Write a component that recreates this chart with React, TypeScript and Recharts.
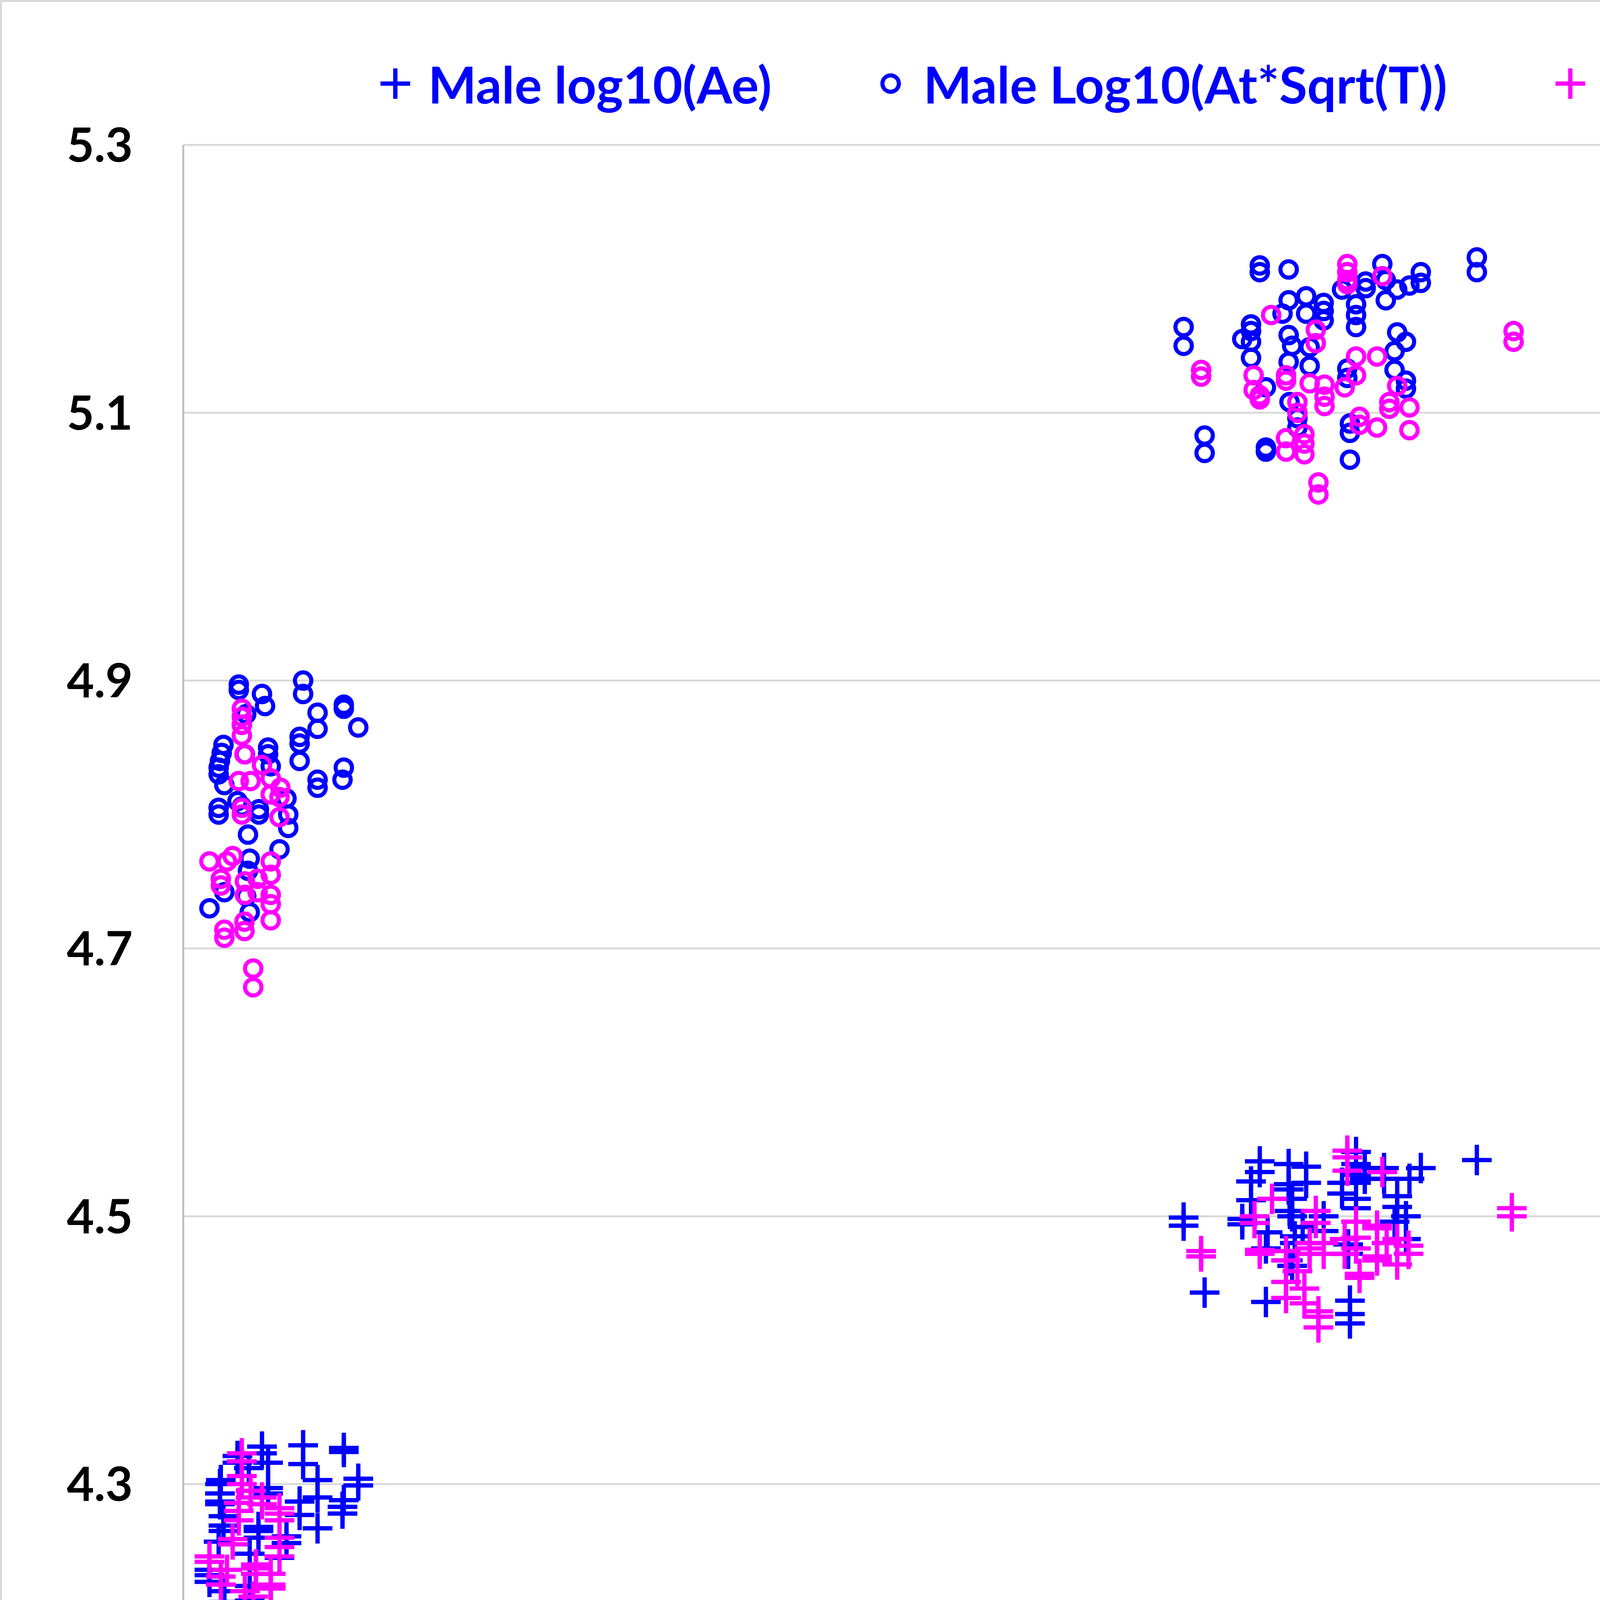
import React from "react";
import { ScatterChart, Scatter, XAxis, YAxis, CartesianGrid, Label } from "recharts";

type Pt = [number, number];

const monthTicks = [0, 5, 10, 15, 20, 25, 30];
const valueTicks = [4.1, 4.3, 4.5, 4.7, 4.9, 5.1, 5.3];

const BLUE = "#0000ff";
const MAGENTA = "#ff00ff";

// [months, value]
const maleAe: Pt[] = [
  [0.9, 4.328], [0.9, 4.323], [1.37, 4.329], [1.37, 4.315], [1.835, 4.327], [1.835, 4.324], [2.0, 4.304], [2.0, 4.299],
  [1.535, 4.303], [1.535, 4.29], [1.535, 4.267], [1.33, 4.287], [1.33, 4.277], [1.82, 4.283], [1.82, 4.278], [1.835, 4.288],
  [0.97, 4.316], [0.62, 4.321], [0.62, 4.316], [0.43, 4.303], [0.42, 4.3], [0.42, 4.293], [0.42, 4.287], [0.42, 4.285],
  [0.97, 4.297], [0.97, 4.293], [0.75, 4.312], [0.46, 4.276], [0.46, 4.269], [0.46, 4.265], [0.405, 4.257], [1.18, 4.261],
  [1.18, 4.256], [1.1, 4.245], [0.86, 4.268], [0.86, 4.265], [0.86, 4.26], [0.76, 4.248], [0.3, 4.236], [0.3, 4.232],
  [0.3, 4.227], [0.47, 4.22], [0.47, 4.212], [0.76, 4.224], [0.76, 4.213],
  [11.43, 4.499], [11.43, 4.493], [11.67, 4.443], [12.3, 4.541], [12.3, 4.533], [12.2, 4.526], [12.2, 4.512], [12.1, 4.498],
  [12.1, 4.494], [12.39, 4.488], [12.37, 4.476], [12.37, 4.436], [12.63, 4.539], [12.63, 4.524], [12.63, 4.52], [12.83, 4.537],
  [12.83, 4.525], [12.67, 4.513], [12.64, 4.504], [12.67, 4.5], [12.79, 4.492], [12.7, 4.485], [12.7, 4.48], [13.03, 4.5],
  [13.03, 4.489], [12.62, 4.467], [12.67, 4.463], [13.4, 4.548], [13.4, 4.539], [13.4, 4.531], [13.4, 4.525], [13.4, 4.513],
  [13.4, 4.506], [13.24, 4.525], [13.24, 4.517], [13.5, 4.536], [13.5, 4.528], [13.72, 4.536], [13.72, 4.528], [14.14, 4.536],
  [14.01, 4.528], [13.87, 4.515], [13.87, 4.507], [13.97, 4.5], [13.84, 4.496], [13.97, 4.483], [13.31, 4.479], [13.31, 4.472],
  [13.33, 4.437], [13.33, 4.427], [13.33, 4.42], [14.78, 4.542],
  [24.44, 4.594], [24.44, 4.589], [25.0, 4.593], [25.0, 4.584], [23.54, 4.561], [23.54, 4.553], [23.87, 4.53], [23.87, 4.526],
  [24.33, 4.567], [24.33, 4.563], [24.1, 4.54], [24.59, 4.558], [24.48, 4.552], [24.59, 4.547], [24.94, 4.562], [24.94, 4.552],
  [24.91, 4.547], [24.78, 4.54], [24.26, 4.488], [24.75, 4.501], [25.47, 4.58], [25.47, 4.57], [25.42, 4.565], [25.47, 4.562],
  [25.42, 4.554], [25.47, 4.537], [25.67, 4.528], [25.44, 4.494], [25.44, 4.487], [26.04, 4.57], [26.04, 4.561], [25.89, 4.558],
  [26.31, 4.554], [26.31, 4.54], [26.31, 4.536], [26.21, 4.507], [26.74, 4.553], [26.74, 4.544], [26.74, 4.537], [26.88, 4.579],
  [26.88, 4.57], [27.28, 4.558], [27.28, 4.551], [27.28, 4.526], [27.28, 4.522], [29.31, 4.525], [29.31, 4.519], [29.31, 4.503],
];

const maleAt: Pt[] = [
  [0.635, 4.897], [0.635, 4.893], [0.9, 4.89], [0.935, 4.881], [1.37, 4.9], [1.37, 4.89], [1.535, 4.876], [1.535, 4.864],
  [1.835, 4.882], [1.835, 4.879], [2.0, 4.865], [0.72, 4.875], [0.67, 4.867], [0.46, 4.852], [0.44, 4.846], [0.42, 4.84],
  [0.405, 4.835], [0.405, 4.83], [0.97, 4.85], [0.97, 4.845], [1.0, 4.836], [1.33, 4.858], [1.33, 4.853], [1.33, 4.84],
  [1.535, 4.826], [1.535, 4.82], [1.835, 4.835], [1.82, 4.826], [0.705, 4.845], [0.47, 4.822], [0.405, 4.805], [0.405, 4.8],
  [0.67, 4.806], [0.62, 4.81], [0.865, 4.804], [0.865, 4.8], [1.18, 4.812], [1.2, 4.8], [1.2, 4.79], [0.74, 4.785],
  [1.1, 4.774], [0.76, 4.767], [0.74, 4.758], [0.47, 4.742], [0.3, 4.73], [0.76, 4.727], [0.72, 4.739],
  [11.43, 5.164], [11.43, 5.15], [11.67, 5.083], [11.67, 5.07], [12.3, 5.21], [12.3, 5.205], [12.63, 5.207], [12.2, 5.166],
  [12.2, 5.161], [12.1, 5.155], [12.2, 5.153], [12.2, 5.141], [12.37, 5.119], [12.37, 5.074], [12.37, 5.071], [12.56, 5.174],
  [12.63, 5.184], [12.83, 5.187], [12.83, 5.174], [13.03, 5.182], [13.03, 5.176], [13.03, 5.169], [12.63, 5.158], [12.67, 5.15],
  [12.87, 5.149], [12.63, 5.138], [12.87, 5.135], [13.3, 5.205], [13.51, 5.198], [13.51, 5.193], [13.24, 5.192], [13.4, 5.181],
  [13.4, 5.173], [13.4, 5.164], [13.7, 5.211], [13.74, 5.199], [13.74, 5.184], [13.87, 5.192], [14.01, 5.195], [14.14, 5.205],
  [14.14, 5.197], [13.87, 5.16], [13.97, 5.153], [13.84, 5.146], [13.84, 5.132], [13.97, 5.124], [13.97, 5.118], [13.3, 5.133],
  [13.3, 5.126], [12.64, 5.108], [12.73, 5.096], [12.73, 5.089], [13.33, 5.092], [13.33, 5.085], [13.33, 5.065], [14.78, 5.216],
  [14.78, 5.205],
  [24.44, 5.296], [24.44, 5.292], [23.53, 5.254], [23.53, 5.235], [24.33, 5.257], [24.33, 5.247], [24.1, 5.225], [24.1, 5.216],
  [23.89, 5.214], [23.89, 5.207], [24.59, 5.245], [24.59, 5.238], [24.59, 5.233], [24.56, 5.222], [24.56, 5.21], [24.25, 5.147],
  [24.26, 5.129], [24.91, 5.241], [24.91, 5.231], [24.91, 5.224], [25.0, 5.26], [25.0, 5.256], [25.02, 5.208], [25.02, 5.195],
  [24.78, 5.193], [24.78, 5.167], [25.45, 5.269], [25.45, 5.261], [25.45, 5.251], [25.45, 5.244], [25.45, 5.239], [25.45, 5.231],
  [25.45, 5.225], [25.48, 5.202], [25.67, 5.236], [25.67, 5.228], [25.67, 5.222], [25.18, 5.192], [25.44, 5.147], [25.89, 5.242],
  [25.89, 5.233], [26.05, 5.245], [26.05, 5.227], [26.31, 5.233], [26.31, 5.215], [26.21, 5.181], [26.74, 5.242], [26.89, 5.244],
  [26.89, 5.237], [26.74, 5.215], [26.74, 5.207], [27.28, 5.227], [27.28, 5.219], [27.28, 5.19], [27.28, 5.184], [29.31, 5.183],
  [29.31, 5.15], [29.31, 5.147],
];

const femaleAe: Pt[] = [
  [0.67, 4.323], [0.67, 4.317], [0.67, 4.306], [0.67, 4.3], [0.77, 4.295], [0.77, 4.29], [0.9, 4.29], [0.9, 4.285],
  [1.1, 4.282], [1.1, 4.278], [1.1, 4.273], [1.1, 4.26], [1.1, 4.253], [1.1, 4.246], [0.635, 4.286], [0.635, 4.28],
  [0.635, 4.273], [0.565, 4.259], [0.565, 4.255], [0.3, 4.246], [0.3, 4.242], [0.5, 4.236], [0.43, 4.231], [0.43, 4.225],
  [0.83, 4.24], [0.83, 4.237], [0.83, 4.233], [1.0, 4.233], [1.0, 4.225], [1.0, 4.222], [1.0, 4.209], [1.0, 4.198],
  [0.8, 4.216], [0.47, 4.191], [0.8, 4.19], [0.705, 4.22],
  [11.63, 4.474], [11.63, 4.47], [12.24, 4.5], [12.24, 4.495], [12.44, 4.513], [12.3, 4.475], [12.3, 4.472], [12.6, 4.474],
  [12.6, 4.467], [12.6, 4.451], [12.6, 4.439], [12.81, 4.446], [12.81, 4.435], [12.73, 4.459], [12.97, 4.429], [12.97, 4.425],
  [12.97, 4.417], [12.87, 4.48], [12.87, 4.476], [12.87, 4.472], [13.03, 4.48], [13.03, 4.472], [12.94, 4.504], [12.94, 4.495],
  [13.3, 4.549], [13.3, 4.544], [13.3, 4.534], [13.7, 4.533], [13.4, 4.496], [13.4, 4.484], [13.4, 4.476], [13.27, 4.483],
  [13.27, 4.472], [13.64, 4.493], [13.64, 4.491], [13.64, 4.47], [13.64, 4.467], [13.87, 4.483], [13.87, 4.464], [14.0, 4.478],
  [14.0, 4.472], [13.75, 4.48], [13.44, 4.457], [13.44, 4.454], [15.18, 4.506], [15.18, 4.5],
  [22.05, 4.458], [22.05, 4.454], [22.05, 4.446], [22.05, 4.442], [23.9, 4.563], [23.9, 4.557], [24.24, 4.546], [24.24, 4.54],
  [24.31, 4.527], [24.31, 4.523], [24.53, 4.537], [24.53, 4.532], [24.67, 4.528], [24.67, 4.524], [25.21, 4.576], [25.21, 4.571],
  [25.21, 4.56], [25.21, 4.535], [25.53, 4.55], [25.53, 4.547], [24.8, 4.531], [24.97, 4.527], [25.13, 4.519], [25.29, 4.516],
  [25.13, 4.512], [25.29, 4.509], [24.67, 4.51], [24.74, 4.505], [24.48, 4.501], [24.24, 4.498], [24.48, 4.495], [24.24, 4.492],
  [25.31, 4.498], [24.7, 4.476], [24.53, 4.47], [24.7, 4.469], [25.51, 4.453], [27.21, 4.464], [27.21, 4.456], [27.87, 4.527],
  [27.87, 4.523], [28.28, 4.505], [28.28, 4.5],
];

const femaleAt: Pt[] = [
  [0.67, 4.879], [0.67, 4.873], [0.67, 4.867], [0.67, 4.859], [0.7, 4.845], [0.9, 4.837], [0.635, 4.825], [0.77, 4.825],
  [1.0, 4.827], [1.11, 4.82], [1.1, 4.813], [1.0, 4.815], [0.67, 4.805], [0.67, 4.8], [1.1, 4.798], [0.3, 4.765],
  [0.565, 4.769], [0.5, 4.765], [0.43, 4.752], [0.43, 4.747], [1.0, 4.765], [1.0, 4.755], [1.0, 4.74], [1.0, 4.733],
  [1.0, 4.721], [0.705, 4.75], [0.705, 4.74], [0.85, 4.752], [0.85, 4.742], [0.7, 4.72], [0.7, 4.713], [0.47, 4.714],
  [0.47, 4.708], [0.8, 4.685], [0.8, 4.671],
  [11.63, 5.132], [11.63, 5.127], [12.43, 5.173], [13.3, 5.211], [13.3, 5.205], [13.3, 5.199], [13.3, 5.196], [13.7, 5.202],
  [12.94, 5.162], [12.94, 5.152], [12.23, 5.128], [12.23, 5.117], [12.3, 5.113], [12.3, 5.11], [12.6, 5.128], [12.6, 5.124],
  [12.87, 5.122], [13.04, 5.121], [13.04, 5.112], [13.04, 5.105], [13.4, 5.142], [13.64, 5.142], [13.4, 5.128], [13.27, 5.119],
  [12.73, 5.108], [12.73, 5.1], [13.87, 5.12], [13.78, 5.108], [13.78, 5.103], [14.01, 5.104], [13.44, 5.097], [13.64, 5.089],
  [13.44, 5.091], [14.01, 5.087], [12.6, 5.081], [12.6, 5.071], [12.81, 5.084], [12.81, 5.077], [12.81, 5.069], [12.97, 5.048],
  [12.97, 5.039], [15.2, 5.161], [15.2, 5.153],
  [22.05, 5.123], [22.05, 5.115], [22.05, 5.104], [23.9, 5.231], [23.9, 5.217], [24.24, 5.226], [24.53, 5.217], [24.53, 5.208],
  [24.8, 5.212], [24.8, 5.207], [25.21, 5.255], [25.21, 5.251], [25.53, 5.222], [24.31, 5.19], [24.67, 5.193], [25.21, 5.201],
  [25.16, 5.19], [25.13, 5.186], [24.67, 5.175], [24.97, 5.175], [25.1, 5.175], [25.3, 5.17], [25.3, 5.162], [24.24, 5.155],
  [24.48, 5.156], [24.48, 5.148], [24.74, 5.154], [24.74, 5.147], [24.7, 5.134], [24.7, 5.126], [24.53, 5.12], [25.51, 5.092],
  [27.21, 5.109], [27.87, 5.202], [28.28, 5.153],
];

const seriesNames = [
  "Male log10(Ae)",
  "Male Log10(At*Sqrt(T))",
  "Female log10(Ae)",
  "Female log10(At*sqrt(T))",
];

const toRows = (pts: Pt[]) => pts.map(([x, y]) => ({ x, y }));

const W = 7356;
const H = 4939;
const FONT = "Lato, 'Open Sans', sans-serif";

const PlusMark = ({ cx, cy, color }: { cx: number; cy: number; color: string }) => (
  <g>
    <line x1={cx - 38} y1={cy} x2={cx + 38} y2={cy} stroke={color} strokeWidth={11} />
    <line x1={cx} y1={cy - 39} x2={cx} y2={cy + 39} stroke={color} strokeWidth={11} />
  </g>
);

const RingMark = ({ cx, cy, color }: { cx: number; cy: number; color: string }) => (
  <circle cx={cx} cy={cy} r={21} fill="none" stroke={color} strokeWidth={10.5} />
);

const plusShape = (color: string) => (props: any) => <PlusMark cx={props.cx} cy={props.cy} color={color} />;
const ringShape = (color: string) => (props: any) => <RingMark cx={props.cx} cy={props.cy} color={color} />;

const legendItems = [
  { name: seriesNames[0], color: BLUE, kind: "plus", left: 970 },
  { name: seriesNames[1], color: BLUE, kind: "ring", left: 2238 },
  { name: seriesNames[2], color: MAGENTA, kind: "plus", left: 3978 },
  { name: seriesNames[3], color: MAGENTA, kind: "ring", left: 5381 },
];

const LegendRow = () => (
  <div style={{ position: "absolute", left: 0, top: 0, width: W, height: 371, pointerEvents: "none" }}>
    {legendItems.map((it) => (
      <div
        key={it.name}
        style={{
          position: "absolute",
          left: it.left,
          top: 134,
          height: 160,
          display: "flex",
          alignItems: "center",
          whiteSpace: "nowrap",
        }}
      >
        <svg width={84} height={84} style={{ marginRight: 42 }}>
          {it.kind === "plus" ? (
            <PlusMark cx={42} cy={42} color={it.color} />
          ) : (
            <RingMark cx={42} cy={42} color={it.color} />
          )}
        </svg>
        <span style={{ color: it.color, fontFamily: FONT, fontWeight: 700, fontSize: 131 }}>{it.name}</span>
      </div>
    ))}
  </div>
);

const MonthsLabel = (props: any) => {
  const vb = props.viewBox;
  return (
    <text
      x={vb.x + vb.width / 2 + 47}
      y={vb.y + 376}
      textAnchor="middle"
      fill="#000"
      style={{ fontFamily: FONT, fontWeight: 700, fontSize: 121 }}
    >
      Months
    </text>
  );
};

const tickStyle = { fill: "#000", fontFamily: FONT, fontWeight: 700, fontSize: 121 };

export default function App() {
  return (
    <div style={{ position: "absolute", left: 0, top: 0, width: W, height: H, background: "#fff" }}>
      <ScatterChart width={W} height={H} margin={{ top: 371, right: 165, bottom: 0, left: 0 }}>
        <CartesianGrid vertical={false} stroke="#d9d9d9" strokeWidth={5} />
        <XAxis
          type="number"
          dataKey="x"
          domain={[0, 30]}
          ticks={monthTicks}
          interval={0}
          height={454}
          tickLine={false}
          tickMargin={123}
          axisLine={{ stroke: "#bfbfbf", strokeWidth: 5 }}
          tick={tickStyle}
        >
          <Label content={MonthsLabel} />
        </XAxis>
        <YAxis
          type="number"
          dataKey="y"
          domain={[4.1, 5.3]}
          ticks={valueTicks}
          interval={0}
          width={469}
          tickLine={false}
          tickMargin={123}
          axisLine={{ stroke: "#bfbfbf", strokeWidth: 5 }}
          tick={tickStyle}
          tickFormatter={(v: number) => v.toFixed(1)}
        />
        <Scatter name={seriesNames[0]} data={toRows(maleAe)} shape={plusShape(BLUE)} isAnimationActive={false} />
        <Scatter name={seriesNames[1]} data={toRows(maleAt)} shape={ringShape(BLUE)} isAnimationActive={false} />
        <Scatter name={seriesNames[2]} data={toRows(femaleAe)} shape={plusShape(MAGENTA)} isAnimationActive={false} />
        <Scatter name={seriesNames[3]} data={toRows(femaleAt)} shape={ringShape(MAGENTA)} isAnimationActive={false} />
      </ScatterChart>
      <LegendRow />
      <div
        style={{
          position: "absolute",
          left: 0,
          top: 0,
          width: W,
          height: H,
          boxSizing: "border-box",
          border: "5px solid #d9d9d9",
          pointerEvents: "none",
        }}
      />
    </div>
  );
}
